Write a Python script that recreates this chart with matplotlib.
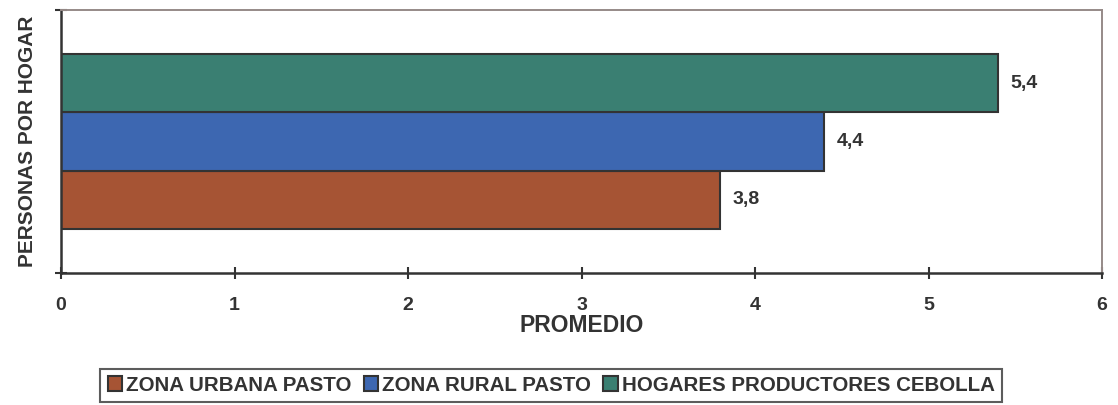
import matplotlib
matplotlib.use("Agg")
import matplotlib.pyplot as plt

# data
series = ["ZONA URBANA PASTO", "ZONA RURAL PASTO", "HOGARES PRODUCTORES CEBOLLA"]
values = [3.8, 4.4, 5.4]
value_labels = ["3,8", "4,4", "5,4"]
colors = ["#A65434", "#3D67B1", "#3A7F72"]
xticks = [0, 1, 2, 3, 4, 5, 6]

plt.rcParams['font.family'] = ['Liberation Sans', 'DejaVu Sans']
txt = "#333333"

fig = plt.figure(figsize=(11.18, 4.05), dpi=100)
ax = fig.add_axes([0.0546, 0.326, 0.9311, 0.649])

h = 0.222
offsets = [-h, 0, h]
for name, v, lab, c, off in zip(series, values, value_labels, colors, offsets):
    ax.barh(off, v, height=h, color=c, edgecolor="#333333", linewidth=1.5, label=name)
    ax.text(v + 0.07, off, lab, va="center", ha="left", fontsize=14,
            fontweight="bold", color=txt)

ax.set_xlim(0, 6)
ax.set_ylim(-0.5, 0.5)
ax.set_xticks(xticks)
ax.set_xticklabels([str(t) for t in xticks], fontsize=14, fontweight="bold", color=txt)
ax.set_yticks([-0.5, 0.5])
ax.set_yticklabels([])
ax.tick_params(axis="both", direction="inout", length=8, width=1.5, color="#333333")
ax.tick_params(axis="x", pad=13)

for s in ["left", "bottom"]:
    ax.spines[s].set_color("#333333")
    ax.spines[s].set_linewidth(1.8)
for s in ["top", "right"]:
    ax.spines[s].set_color("#968A88")
    ax.spines[s].set_linewidth(1.4)

ax.set_xlabel("PROMEDIO", fontsize=16.5, fontweight="bold", color=txt, labelpad=0)
ax.set_ylabel("PERSONAS POR HOGAR", fontsize=15, fontweight="bold", color=txt, labelpad=10)

leg = fig.legend(loc="upper center", bbox_to_anchor=(0.493, 0.09), ncol=3,
                 frameon=True, fancybox=False, edgecolor="#333333",
                 handlelength=0.7, handleheight=0.7, handletextpad=0.2,
                 columnspacing=0.6, borderpad=0.35, borderaxespad=0,
                 prop={"size": 14.8, "weight": "bold"})
leg.get_frame().set_linewidth(1.5)
for t in leg.get_texts():
    t.set_color(txt)

fig.savefig("out.png", dpi=100)
